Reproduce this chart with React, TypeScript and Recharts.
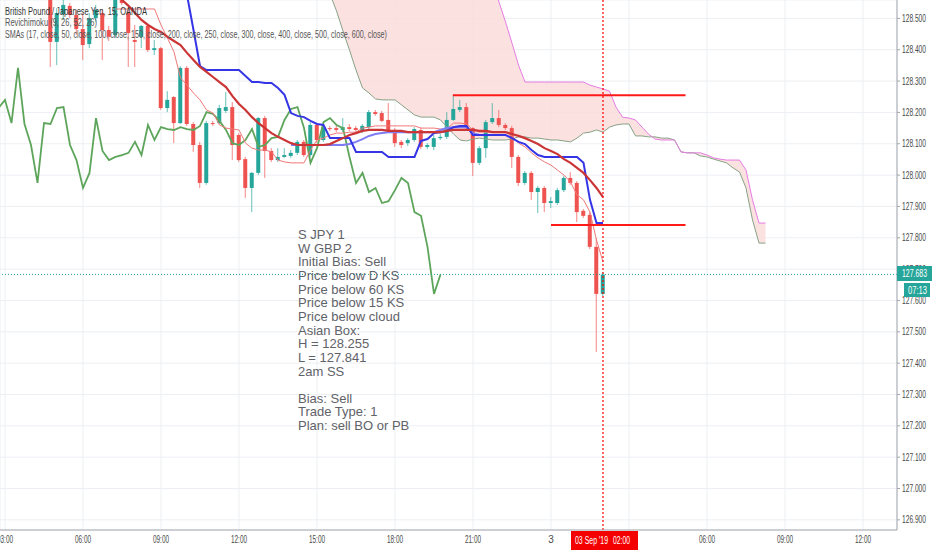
import {
  ComposedChart, Bar, Line, Area, XAxis, YAxis, CartesianGrid, ReferenceLine,
} from 'recharts'

// GBP/JPY 15m, x = bar number counted from 2 Sep 03:00 (0) in 15 minute steps
const CANDLE_START = 7
const opens = [
  128.607, 128.425, 128.514, 128.540, 128.511, 128.466, 128.418, 128.501, 128.517, 128.463,
  128.447, 128.559, 128.517, 128.431, 128.441, 128.476, 128.399, 128.405, 128.214, 128.249,
  128.166, 128.342, 128.163, 128.096, 127.975, 128.166, 128.166, 128.205, 128.217, 128.128,
  128.051, 127.959, 128.007, 128.182, 128.077, 128.048, 128.058, 128.061, 128.071, 128.106,
  128.064, 128.160, 128.112, 128.150, 128.150, 128.144, 128.153, 128.150, 128.141, 128.153,
  128.201, 128.198, 128.176, 128.144, 128.106, 128.102, 128.112, 128.144, 128.090, 128.090,
  128.118, 128.122, 128.176, 128.208, 128.217, 128.150, 128.039, 128.086, 128.169, 128.182,
  128.160, 128.150, 128.058, 127.975, 128.007, 127.946, 127.959, 127.911, 127.911, 127.952,
  127.991, 127.975, 127.886, 127.873, 127.771, 127.621,
]
const highs = [
  128.639, 128.533, 128.559, 128.549, 128.527, 128.517, 128.517, 128.543, 128.530, 128.476,
  128.597, 128.568, 128.527, 128.479, 128.479, 128.479, 128.431, 128.409, 128.268, 128.252,
  128.348, 128.348, 128.169, 128.106, 128.173, 128.173, 128.224, 128.265, 128.233, 128.134,
  128.058, 128.010, 128.185, 128.189, 128.086, 128.086, 128.086, 128.080, 128.112, 128.112,
  128.169, 128.166, 128.160, 128.157, 128.157, 128.182, 128.163, 128.157, 128.163, 128.208,
  128.208, 128.205, 128.230, 128.150, 128.112, 128.118, 128.153, 128.150, 128.102, 128.128,
  128.131, 128.201, 128.256, 128.240, 128.230, 128.153, 128.093, 128.176, 128.230, 128.208,
  128.166, 128.157, 128.064, 128.013, 128.013, 127.965, 127.965, 127.930, 127.959, 127.997,
  128.010, 127.981, 127.892, 127.882, 127.799, 127.691,
]
const lows = [
  128.345, 128.351, 128.495, 128.501, 128.447, 128.367, 128.405, 128.489, 128.367, 128.428,
  128.437, 128.543, 128.345, 128.345, 128.405, 128.393, 128.383, 128.208, 128.201, 128.102,
  128.163, 128.157, 128.074, 127.959, 127.969, 128.157, 128.163, 128.198, 128.048, 128.042,
  127.927, 127.882, 128.000, 127.991, 128.042, 128.042, 128.055, 128.055, 128.064, 128.058,
  128.058, 128.102, 128.106, 128.141, 128.137, 128.137, 128.141, 128.134, 128.134, 128.147,
  128.189, 128.169, 128.137, 128.090, 128.086, 128.093, 128.106, 128.083, 128.083, 128.080,
  128.112, 128.115, 128.173, 128.201, 128.144, 127.997, 128.032, 128.055, 128.163, 128.153,
  128.144, 128.023, 127.965, 127.969, 127.921, 127.879, 127.882, 127.895, 127.905, 127.946,
  127.969, 127.850, 127.863, 127.764, 127.436, 127.614,
]
const closes = [
  128.425, 128.517, 128.543, 128.511, 128.466, 128.415, 128.501, 128.527, 128.463, 128.441,
  128.575, 128.549, 128.453, 128.425, 128.476, 128.399, 128.405, 128.214, 128.240, 128.166,
  128.342, 128.163, 128.096, 127.975, 128.166, 128.163, 128.214, 128.217, 128.096, 128.048,
  127.959, 128.007, 128.182, 128.077, 128.048, 128.058, 128.064, 128.071, 128.106, 128.064,
  128.160, 128.112, 128.153, 128.147, 128.144, 128.153, 128.147, 128.144, 128.157, 128.201,
  128.195, 128.173, 128.144, 128.102, 128.096, 128.112, 128.147, 128.090, 128.096, 128.118,
  128.122, 128.176, 128.211, 128.217, 128.150, 128.039, 128.086, 128.169, 128.182, 128.160,
  128.150, 128.058, 127.975, 128.007, 127.946, 127.959, 127.911, 127.917, 127.952, 127.991,
  127.975, 127.882, 127.870, 127.771, 127.621, 127.683,
]

// lagging span (green)
const LAG_START = -1
const lagging = [
  128.214, 128.240, 128.166, 128.342, 128.163, 128.096, 127.975, 128.166, 128.163, 128.214,
  128.217, 128.096, 128.048, 127.959, 128.007, 128.182, 128.077, 128.048, 128.058, 128.064,
  128.071, 128.106, 128.064, 128.160, 128.112, 128.153, 128.147, 128.144, 128.153, 128.147,
  128.144, 128.157, 128.201, 128.195, 128.173, 128.144, 128.102, 128.096, 128.112, 128.147,
  128.090, 128.096, 128.118, 128.122, 128.176, 128.211, 128.217, 128.150, 128.039, 128.086,
  128.169, 128.182, 128.160, 128.150, 128.058, 127.975, 128.007, 127.946, 127.959, 127.911,
  127.917, 127.952, 127.991, 127.975, 127.882, 127.870, 127.771, 127.621, 127.683,
]

// SMA 17 (thick red)
const SMA17_START = 17
const sma17 = [
  128.591, 128.559, 128.540, 128.517, 128.495, 128.479, 128.466, 128.457, 128.441, 128.428,
  128.415, 128.390, 128.367, 128.345, 128.329, 128.313, 128.297, 128.281, 128.252, 128.227,
  128.208, 128.185, 128.166, 128.150, 128.134, 128.122, 128.112, 128.102, 128.096, 128.096,
  128.096, 128.096, 128.096, 128.099, 128.109, 128.118, 128.128, 128.134, 128.141, 128.144,
  128.144, 128.144, 128.141, 128.141, 128.141, 128.137, 128.137, 128.137, 128.137, 128.137,
  128.137, 128.141, 128.144, 128.144, 128.144, 128.144, 128.141, 128.141, 128.137, 128.137,
  128.137, 128.131, 128.125, 128.118, 128.109, 128.099, 128.086, 128.077, 128.067, 128.051,
  128.039, 128.023, 128.007, 127.984, 127.959, 127.930,
]

// base line (dark blue)
const KIJUN_START = 28
const kijun = [
  128.575, 128.463, 128.348, 128.335, 128.335, 128.335, 128.335, 128.335, 128.335, 128.316,
  128.297, 128.297, 128.294, 128.294, 128.278, 128.256, 128.198, 128.189, 128.185, 128.173,
  128.163, 128.160, 128.118, 128.118, 128.118, 128.118, 128.074, 128.074, 128.074, 128.074,
  128.074, 128.058, 128.058, 128.058, 128.058, 128.058, 128.109, 128.115, 128.134, 128.137,
  128.141, 128.153, 128.157, 128.157, 128.128, 128.128, 128.128, 128.128, 128.128, 128.128,
  128.118, 128.106, 128.099, 128.080, 128.064, 128.058, 128.058, 128.058, 128.058, 128.058,
  128.058, 128.039, 127.921, 127.847, 127.847,
]

// SMA 50 (light blue)
const SMA50_START = 44
const sma50 = [
  128.096, 128.096, 128.096, 128.096, 128.096, 128.096, 128.096, 128.096, 128.096, 128.099,
  128.106, 128.115, 128.125, 128.131, 128.134, 128.137, 128.137, 128.137, 128.137, 128.137,
  128.137, 128.137, 128.137, 128.144, 128.150, 128.153, 128.153, 128.153, 128.134, 128.128,
]

// conversion line (thin red)
const TENKAN_START = 17
const tenkan = [
  128.530, 128.530, 128.530, 128.530, 128.530, 128.530, 128.530, 128.479, 128.437, 128.393,
  128.310, 128.287, 128.262, 128.240, 128.208, 128.198, 128.160, 128.150, 128.147, 128.144,
  128.102, 128.086, 128.080, 128.080, 128.074, 128.048, 128.042, 128.039, 128.039, 128.039,
  128.080, 128.112, 128.118, 128.128, 128.134, 128.134, 128.137, 128.137, 128.150, 128.153,
  128.157, 128.157, 128.157, 128.157, 128.157, 128.157, 128.157, 128.150, 128.150, 128.150,
  128.147, 128.147, 128.166, 128.166, 128.163, 128.144, 128.137, 128.137, 128.137, 128.137,
  128.137, 128.125, 128.102, 128.090, 128.071, 128.055, 128.042, 128.032, 128.016, 128.000,
  127.978, 127.937, 127.921, 127.882, 127.793, 127.723,
]

// cloud, leading spans A and B
const CLOUD_START = 49
const spanA = [
  128.638, 128.578, 128.524, 128.460, 128.399, 128.335, 128.278, 128.262, 128.243, 128.240,
  128.240, 128.240, 128.224, 128.208, 128.192, 128.185, 128.185, 128.185, 128.176, 128.153,
  128.131, 128.112, 128.109, 128.115, 128.118, 128.115, 128.112, 128.112, 128.112, 128.115,
  128.122, 128.122, 128.118, 128.118, 128.115, 128.112, 128.112, 128.109, 128.106, 128.118,
  128.134, 128.137, 128.144, 128.137, 128.153, 128.160, 128.163, 128.163, 128.125, 128.125,
  128.122, 128.122, 128.118, 128.118, 128.112, 128.074, 128.071, 128.071, 128.061, 128.058,
  128.051, 128.045, 128.039, 128.023, 128.010, 127.959, 127.857, 127.783, 127.783,
]
const spanB = [
  128.750, 128.750, 128.750, 128.750, 128.750, 128.750, 128.750, 128.750, 128.750, 128.750,
  128.750, 128.750, 128.750, 128.750, 128.750, 128.750, 128.750, 128.750, 128.750, 128.750,
  128.750, 128.750, 128.750, 128.750, 128.750, 128.750, 128.623, 128.552, 128.489, 128.421,
  128.351, 128.297, 128.297, 128.297, 128.297, 128.297, 128.297, 128.297, 128.297, 128.297,
  128.297, 128.287, 128.281, 128.275, 128.268, 128.217, 128.185, 128.182, 128.176, 128.153,
  128.131, 128.115, 128.112, 128.112, 128.112, 128.074, 128.071, 128.071, 128.071, 128.064,
  128.055, 128.051, 128.048, 128.048, 128.048, 128.016, 127.921, 127.847, 127.847,
]

const priceTicks = [
  126.9, 127.0, 127.1, 127.2, 127.3, 127.4, 127.5, 127.6, 127.7,
  127.8, 127.9, 128.0, 128.1, 128.2, 128.3, 128.4, 128.5,
]
const timeTicks = [0, 12, 24, 36, 48, 60, 72, 84, 96, 108, 120, 132]
const timeLabels = [
  '03:00', '06:00', '09:00', '12:00', '15:00', '18:00',
  '21:00', '3', '03:00', '06:00', '09:00', '12:00',
]

const lastPrice = 127.683
const asianHigh = 128.255
const asianLow = 127.841
const asianHighFrom = 68.9
const asianLowFrom = 84
const asianTo = 104.7
const cursorBar = 92

const notes = [
  'S JPY 1', 'W GBP 2', 'Initial Bias: Sell', 'Price below D KS', 'Price below 60 KS',
  'Price below 15 KS', 'Price below cloud', 'Asian Box:', 'H = 128.255', 'L = 127.841',
  '2am SS', '', 'Bias: Sell', 'Trade Type: 1', 'Plan: sell BO or PB',
]

const FIRST_BAR = -1
const LAST_BAR = 117
const rows: any[] = []
for (let i = FIRST_BAR; i <= LAST_BAR; i++) {
  const k = i - CANDLE_START
  rows.push({
    i,
    o: opens[k], h: highs[k], l: lows[k], c: closes[k],
    lag: lagging[i - LAG_START],
    sma17: sma17[i - SMA17_START],
    kijun: kijun[i - KIJUN_START],
    sma50: sma50[i - SMA50_START],
    tenkan: tenkan[i - TENKAN_START],
    spanA: spanA[i - CLOUD_START],
    spanB: spanB[i - CLOUD_START],
  })
}

const UP = '#26a69a'
const DOWN = '#ef5350'
const FONT = "'Liberation Sans', Arial, sans-serif"
const AXIS_TEXT = '#4a4a4a'

function Candle(props: any) {
  const { x, y, width, height, payload } = props
  if (!payload || payload.o == null || !(payload.h > payload.l)) return <g />
  const { o, h, l, c } = payload
  const k = height / (h - l)
  const top = y + (h - Math.max(o, c)) * k
  const bodyH = Math.max(1, Math.abs(o - c) * k)
  const cx = x + width / 2
  const color = c >= o ? UP : DOWN
  return (
    <g>
      <line x1={cx} x2={cx} y1={y} y2={y + height} stroke={color} strokeOpacity={0.7} />
      <rect x={x} y={top} width={width} height={bodyH} fill={color} />
    </g>
  )
}

function PriceTick({ x, y, payload }: any) {
  return (
    <text x={x} y={y + 3.5} fontSize={10} fill={AXIS_TEXT} fontFamily={FONT}
      textLength={24} lengthAdjust="spacingAndGlyphs">
      {payload.value.toFixed(3)}
    </text>
  )
}

function TimeTick({ x, y, payload }: any) {
  const label = timeLabels[timeTicks.indexOf(payload.value)]
  const long = label.length > 1
  return (
    <text x={x} y={y + 13} fontSize={10} fill={AXIS_TEXT} fontFamily={FONT} textAnchor="middle"
      textLength={long ? 16 : undefined} lengthAdjust="spacingAndGlyphs">
      {label}
    </text>
  )
}

export default function App() {
  return (
    <div style={{ position: 'absolute', left: 0, top: 0, width: 932, height: 550, background: '#fff' }}>
      <ComposedChart width={932} height={550} data={rows} margin={{ top: 0, right: 0, bottom: 0, left: 0 }}>
        <CartesianGrid stroke="#eceff3" />
        <XAxis
          dataKey="i" type="number" domain={[-0.769, 137.23]} allowDataOverflow
          ticks={timeTicks} interval={0} height={20}
          tickLine={false} tickSize={0} tickMargin={0}
          axisLine={{ stroke: '#a3a6ae' }} tick={<TimeTick />}
        />
        <YAxis
          orientation="right" type="number" domain={[126.8676, 128.5587]} allowDataOverflow
          ticks={priceTicks} interval={0} width={35}
          tickSize={3} tickMargin={2} tickLine={{ stroke: '#a3a6ae' }}
          axisLine={{ stroke: '#a3a6ae' }} tick={<PriceTick />}
        />
        <Area
          dataKey={(d: any) => (d.spanA == null ? null : [d.spanA, d.spanB])}
          fill="#fcdcdc" fillOpacity={0.85} stroke="none" isAnimationActive={false}
        />
        <Line dataKey="spanA" stroke="#86a386" strokeWidth={1} dot={false} isAnimationActive={false} />
        <Line dataKey="spanB" stroke="#e57ce3" strokeWidth={1} dot={false} isAnimationActive={false} />
        <Bar
          dataKey={(d: any) => (d.h == null ? null : [d.l, d.h])}
          barSize={4} shape={<Candle />} isAnimationActive={false}
        />
        <Line dataKey="lag" stroke="#5ea55c" strokeWidth={1.8} dot={false} isAnimationActive={false} />
        <Line dataKey="tenkan" stroke="#f07878" strokeWidth={1} dot={false} isAnimationActive={false} />
        <Line dataKey="sma50" stroke="#7d7cf2" strokeWidth={2} dot={false} isAnimationActive={false} />
        <Line dataKey="kijun" stroke="#3535e6" strokeWidth={2} dot={false} isAnimationActive={false} />
        <Line dataKey="sma17" stroke="#cc3535" strokeWidth={2.2} dot={false} isAnimationActive={false} />
        <ReferenceLine y={lastPrice} stroke={UP} strokeDasharray="1 2" />
        <ReferenceLine x={cursorBar} stroke="#ff0000" strokeDasharray="2 2" strokeWidth={1.2} />
        <ReferenceLine
          segment={[{ x: asianHighFrom, y: asianHigh }, { x: asianTo, y: asianHigh }]}
          stroke="#ff1a1a" strokeWidth={2}
        />
        <ReferenceLine
          segment={[{ x: asianLowFrom, y: asianLow }, { x: asianTo, y: asianLow }]}
          stroke="#ff1a1a" strokeWidth={2}
        />
      </ComposedChart>

      <svg width={932} height={550} style={{ position: 'absolute', left: 0, top: 0, pointerEvents: 'none' }}>
        <g fontFamily={FONT} fontSize={10}>
          <text x={5} y={14.5} fill="#333" textLength={142} lengthAdjust="spacingAndGlyphs">
            British Pound / Japanese Yen, 15, OANDA
          </text>
          <text x={5} y={26} fill="#555" textLength={92} lengthAdjust="spacingAndGlyphs">
            Revichimoku (9, 26, 52, 26)
          </text>
          <text x={5} y={37.5} fill="#555" textLength={382} lengthAdjust="spacingAndGlyphs">
            SMAs (17, close, 50, close, 100, close, 150, close, 200, close, 250, close, 300, close, 400, close, 500, close, 600, close)
          </text>
        </g>

        <g fontFamily={FONT} fontSize={13} fill="#5f6269">
          {notes.map((t, k) => (
            <text key={k} x={298} y={239 + k * 13.65}>{t}</text>
          ))}
        </g>

        <rect x={897} y={266} width={35} height={15} fill={UP} />
        <text x={902} y={277} fontFamily={FONT} fontSize={10} fill="#fff" textLength={25} lengthAdjust="spacingAndGlyphs">
          127.683
        </text>
        <rect x={904} y={283} width={26} height={14} fill={UP} />
        <text x={908} y={294} fontFamily={FONT} fontSize={10} fill="#fff" textLength={19} lengthAdjust="spacingAndGlyphs">
          07:13
        </text>

        <rect x={571} y={531} width={67} height={19} fill="#f50000" />
        <text x={575} y={544} fontFamily={FONT} fontSize={10} fill="#fff" textLength={33} lengthAdjust="spacingAndGlyphs">
          03 Sep '19
        </text>
        <text x={613} y={544} fontFamily={FONT} fontSize={10} fill="#fff" textLength={17} lengthAdjust="spacingAndGlyphs">
          02:00
        </text>
      </svg>
    </div>
  )
}
